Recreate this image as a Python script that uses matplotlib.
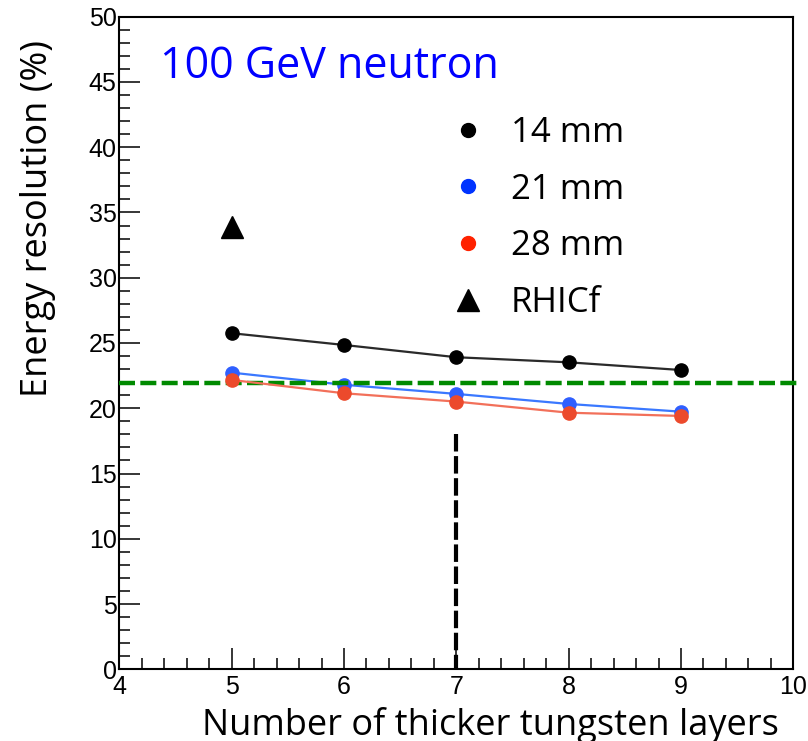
import matplotlib
matplotlib.use("Agg")
import matplotlib.pyplot as plt
from matplotlib.lines import Line2D
from matplotlib.ticker import MultipleLocator

# ---- data ----
layers = [5, 6, 7, 8, 9]
res_14mm = [25.75, 24.85, 23.91, 23.52, 22.93]
res_21mm = [22.73, 21.80, 21.10, 20.33, 19.74]
res_28mm = [22.17, 21.15, 20.51, 19.66, 19.41]
rhicf_x = [5]
rhicf_y = [33.9]
ref_level = 21.9          # green dashed reference
chosen_layers = 7         # black dashed vertical marker
chosen_top = 18.0
series_labels = ["14 mm", "21 mm", "28 mm", "RHICf"]
title_text = "100 GeV neutron"
xlabel_text = "Number of thicker tungsten layers"
ylabel_text = "Energy resolution (%)"

plt.rcParams['font.family'] = ['Open Sans', 'DejaVu Sans']

fig = plt.figure(figsize=(8.08, 7.41), dpi=100)
ax = fig.add_axes([119.3/808, 1-669.3/741, 674/808, 652.6/741])
ax.set_xlim(4, 10)
ax.set_ylim(0, 50)

# vertical dashed line
ax.plot([chosen_layers, chosen_layers], [chosen_top, 0], color='black', lw=3.0,
        dashes=(4.2, 1.1), solid_capstyle='butt', dash_capstyle='butt', zorder=2)

# series
ax.plot(layers, res_14mm, color='#2a2a2a', lw=1.6, marker='o', ms=9.5,
        mfc='black', mec='black', zorder=3)
ax.plot(layers, res_21mm, color='#3a78ff', lw=1.6, marker='o', ms=9.5,
        mfc='#2f5fff', mec='#2f5fff', zorder=3)
ax.hlines(ref_level, 4, 10.06, colors='#008a00', lw=3.2, linestyles=(0, (3.6, 1.2)),
          clip_on=False, zorder=4)
ax.plot(layers, res_28mm, color='#f2705a', lw=1.6, marker='o', ms=9.5,
        mfc='#ec4a2c', mec='#ec4a2c', zorder=5)
ax.plot(rhicf_x, rhicf_y, ls='none', marker='^', ms=16.5, color='black', zorder=5)

# axes style (ROOT-like)
for s in ax.spines.values():
    s.set_linewidth(1.5)
ax.xaxis.set_major_locator(MultipleLocator(1))
ax.xaxis.set_minor_locator(MultipleLocator(0.2))
ax.yaxis.set_major_locator(MultipleLocator(5))
ax.yaxis.set_minor_locator(MultipleLocator(1))
ax.tick_params(which='both', direction='in', top=False, right=False, width=1.1)
ax.tick_params(which='major', length=15)
ax.tick_params(which='minor', length=8)
for lab in ax.get_xticklabels() + ax.get_yticklabels():
    lab.set_family('Liberation Sans')
    lab.set_fontsize(18)
ax.tick_params(axis='x', pad=4)
ax.tick_params(axis='y', pad=2)

# title in plot
ax.text((160-119.3)/674, (669.3-78)/652.6, title_text, transform=ax.transAxes,
        color='#0000ff', fontsize=31, ha='left', va='baseline')

# legend
handles = [
    Line2D([], [], ls='none', marker='o', ms=10, color='black'),
    Line2D([], [], ls='none', marker='o', ms=10, color='#0033ff'),
    Line2D([], [], ls='none', marker='o', ms=10, color='#ff2200'),
    Line2D([], [], ls='none', marker='^', ms=16, color='black'),
]
ax.legend(handles, series_labels, loc='upper left',
          bbox_to_anchor=((450.3-119.3)/674, (669.3-116)/652.6),
          frameon=False, fontsize=25, handlelength=1.0, handletextpad=0.75,
          borderpad=0, borderaxespad=0, labelspacing=0.65)

# axis labels
fig.text(779/808, 1-735/741, xlabel_text, fontsize=26, ha='right', va='baseline')
fig.text(47/808, 1-40/741, ylabel_text, fontsize=26, rotation=90,
         rotation_mode='anchor', ha='right', va='baseline')

fig.savefig('out.png', dpi=100)
